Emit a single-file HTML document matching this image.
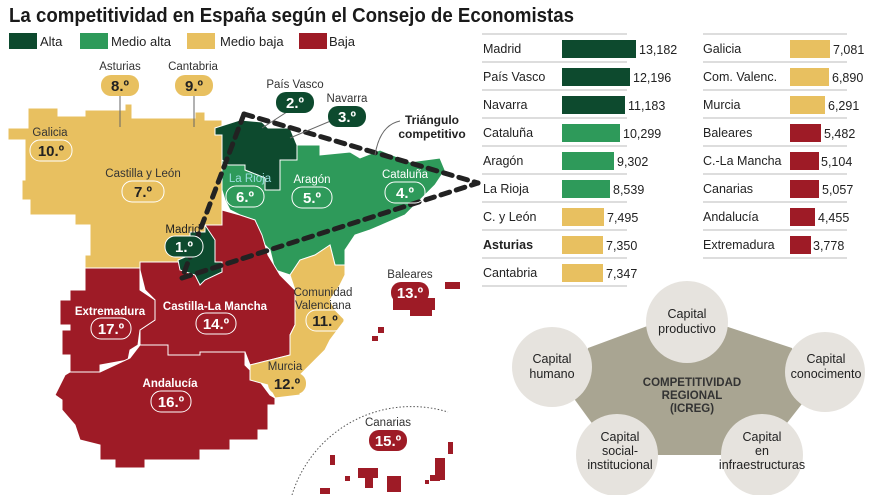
<!DOCTYPE html>
<html><head><meta charset="utf-8"><style>
body{margin:0;background:#fff;width:880px;height:495px;overflow:hidden;font-family:"Liberation Sans",sans-serif}
</style></head><body>
<svg width="880" height="495" viewBox="0 0 880 495" xmlns="http://www.w3.org/2000/svg" font-family="Liberation Sans, sans-serif">
<text x="9" y="22" font-size="20" font-weight="bold" fill="#1a1a1a" textLength="565" lengthAdjust="spacingAndGlyphs">La competitividad en España según el Consejo de Economistas</text>
<rect x="9" y="33" width="28" height="16" fill="#0d4a2e"/><text x="40" y="46" font-size="13" fill="#222">Alta</text>
<rect x="80" y="33" width="28" height="16" fill="#2e9a5a"/><text x="111" y="46" font-size="13" fill="#222">Medio alta</text>
<rect x="187" y="33" width="28" height="16" fill="#e8c060"/><text x="220" y="46" font-size="13" fill="#222">Medio baja</text>
<rect x="299" y="33" width="28" height="16" fill="#9e1b26"/><text x="329" y="46" font-size="13" fill="#222">Baja</text>

<g stroke="#fff" stroke-width="1">
<polygon fill="#e8c060" points="8,128 28,128 28,108 58,108 58,116 85,116 85,110 125,110 125,104 132,104 132,118 195,118 195,112 205,112 205,120 222,120 222,225 205,225 205,232 190,232 190,262 140,262 140,268 85,268 85,255 90,255 90,225 75,225 75,215 30,215 30,200 22,200 22,180 25,180 25,140 8,140"/>
<polygon fill="#0d4a2e" points="215,128 240,120 262,122 268,128 290,128 297,145 297,160 280,160 280,190 265,190 265,178 245,170 245,165 228,165 222,160 222,135 215,135"/>
<polygon fill="#2e9a5a" points="222,160 228,165 245,165 245,170 265,178 265,190 280,190 280,160 297,160 297,145 320,145 320,155 350,152 360,158 380,150 410,162 440,158 445,170 435,185 420,200 405,215 370,230 355,235 345,250 345,265 335,265 330,245 315,255 300,260 290,275 275,270 270,250 260,240 255,220 240,215 230,210 225,200 222,190"/>
<polygon fill="#9e1b26" points="205,225 222,225 222,210 240,215 255,220 262,235 268,255 280,275 295,290 295,325 290,335 290,355 270,360 250,365 245,352 200,352 200,355 168,355 168,345 140,345 140,330 155,320 155,300 145,290 140,270 140,262 190,262 190,232 205,232"/>
<polygon fill="#0d4a2e" points="190,232 205,232 205,225 215,240 215,262 222,262 222,272 205,280 200,285 195,275 180,270 178,260 190,255"/>
<polygon fill="#9e1b26" points="85,268 140,268 140,290 155,300 155,320 140,330 138,345 130,350 128,360 100,365 100,372 70,372 70,355 62,355 62,330 70,330 70,325 60,325 60,300 70,300 70,290 85,290"/>
<polygon fill="#9e1b26" points="70,372 100,372 130,358 140,345 168,345 168,355 200,355 200,352 245,352 245,365 255,375 270,395 275,398 275,405 268,405 268,430 258,430 258,440 230,440 230,450 200,450 200,460 145,460 145,468 115,468 115,460 100,460 100,445 80,440 75,425 62,410 62,400 55,395 60,385 65,375"/>
<polygon fill="#e8c060" points="290,275 300,260 315,255 330,245 335,265 345,265 345,275 340,285 330,300 335,310 345,320 330,340 325,350 305,370 300,375 300,395 275,398 268,385 250,380 250,365 270,360 290,355 290,335 295,325 295,290"/>
</g>
<g fill="#9e1b26">
<rect x="393" y="298" width="42" height="12"/><rect x="410" y="308" width="22" height="8"/><rect x="445" y="282" width="15" height="7"/><rect x="378" y="327" width="6" height="6"/><rect x="372" y="336" width="6" height="5"/>
<rect x="330" y="455" width="5" height="10"/><rect x="358" y="468" width="20" height="10"/><rect x="365" y="478" width="8" height="10"/><rect x="345" y="476" width="5" height="5"/><rect x="387" y="476" width="14" height="16"/><rect x="435" y="458" width="10" height="22"/><rect x="430" y="475" width="10" height="6"/><rect x="448" y="442" width="5" height="12"/><rect x="320" y="488" width="10" height="6"/><rect x="425" y="480" width="4" height="4"/>
</g>
<path d="M292,495 A125,125 0 0,1 448,412" fill="none" stroke="#555" stroke-width="1" stroke-dasharray="1.5,2"/>
<g stroke="#222" stroke-width="5" stroke-dasharray="9,7" stroke-linecap="round" fill="none">
<path d="M244,114 L182,278"/><path d="M244,114 L478,183"/><path d="M182,278 L478,183"/>
</g>
<g stroke="#666" stroke-width="1"><line x1="120" y1="96" x2="120" y2="127"/><line x1="194" y1="96" x2="194" y2="127"/><line x1="290" y1="110" x2="262" y2="128"/><line x1="333" y1="120" x2="290" y2="138"/><path d="M400,121 Q380,125 375,155" fill="none"/></g>

<g font-size="11.5" text-anchor="middle">
<text x="120" y="70" fill="#333">Asturias</text><text x="193" y="70" fill="#333">Cantabria</text>
<text x="295" y="88" fill="#333">País Vasco</text><text x="347" y="102" fill="#333">Navarra</text>
<text x="50" y="136" fill="#333">Galicia</text><text x="143" y="177" fill="#333">Castilla y León</text>
<text x="250" y="182" fill="#9dd">La Rioja</text><text x="312" y="183" fill="#fff">Aragón</text><text x="405" y="178" fill="#fff">Cataluña</text>
<text x="183" y="233" fill="#222">Madrid</text><text x="110" y="315" fill="#fff" font-weight="bold">Extremadura</text><text x="215" y="310" fill="#fff" font-weight="bold">Castilla-La Mancha</text>
<text x="170" y="387" fill="#fff" font-weight="bold">Andalucía</text><text x="323" y="296" fill="#333">Comunidad</text><text x="323" y="309" fill="#333">Valenciana</text>
<text x="285" y="370" fill="#333">Murcia</text><text x="410" y="278" fill="#333">Baleares</text><text x="388" y="426" fill="#333">Canarias</text>
</g>
<text x="432" y="124" font-size="12" font-weight="bold" text-anchor="middle" fill="#222">Triángulo</text>
<text x="432" y="138" font-size="12" font-weight="bold" text-anchor="middle" fill="#222">competitivo</text>

<g font-size="15" font-weight="bold" text-anchor="middle">
<rect x="101" y="75" width="38" height="21" rx="10" fill="#e8c060"/><text x="120" y="91" fill="#222">8.º</text>
<rect x="175" y="75" width="38" height="21" rx="10" fill="#e8c060"/><text x="194" y="91" fill="#222">9.º</text>
<rect x="276" y="92" width="38" height="21" rx="10" fill="#0d4a2e"/><text x="295" y="108" fill="#fff">2.º</text>
<rect x="328" y="106" width="38" height="21" rx="10" fill="#0d4a2e"/><text x="347" y="122" fill="#fff">3.º</text>
<rect x="30" y="140" width="42" height="21" rx="10" fill="none" stroke="#fff"/><text x="51" y="156" fill="#222">10.º</text>
<rect x="122" y="181" width="42" height="21" rx="10" fill="none" stroke="#fff"/><text x="143" y="197" fill="#222">7.º</text>
<rect x="226" y="186" width="38" height="21" rx="10" fill="#2e9a5a" stroke="#fff"/><text x="245" y="202" fill="#fff">6.º</text>
<rect x="292" y="187" width="40" height="21" rx="10" fill="none" stroke="#fff"/><text x="312" y="203" fill="#fff">5.º</text>
<rect x="385" y="182" width="40" height="21" rx="10" fill="none" stroke="#fff"/><text x="405" y="198" fill="#fff">4.º</text>
<rect x="165" y="236" width="38" height="21" rx="10" fill="#0d4a2e" stroke="#fff"/><text x="184" y="252" fill="#fff">1.º</text>
<rect x="91" y="318" width="40" height="21" rx="10" fill="none" stroke="#fff"/><text x="111" y="334" fill="#fff">17.º</text>
<rect x="196" y="313" width="40" height="21" rx="10" fill="none" stroke="#fff"/><text x="216" y="329" fill="#fff">14.º</text>
<rect x="151" y="391" width="40" height="21" rx="10" fill="none" stroke="#fff"/><text x="171" y="407" fill="#fff">16.º</text>
<rect x="306" y="310" width="38" height="21" rx="10" fill="none" stroke="#fff"/><text x="325" y="326" fill="#222">11.º</text>
<rect x="268" y="373" width="38" height="21" rx="10" fill="#e8c060"/><text x="287" y="389" fill="#222">12.º</text>
<rect x="391" y="282" width="38" height="21" rx="10" fill="#9e1b26"/><text x="410" y="298" fill="#fff">13.º</text>
<rect x="369" y="430" width="38" height="21" rx="10" fill="#9e1b26"/><text x="388" y="446" fill="#fff">15.º</text>
</g>

<g stroke="#bbb" stroke-width="1">
<line x1="482" y1="34" x2="627" y2="34"/><line x1="482" y1="62" x2="627" y2="62"/><line x1="482" y1="90" x2="627" y2="90"/><line x1="482" y1="118" x2="627" y2="118"/><line x1="482" y1="146" x2="627" y2="146"/><line x1="482" y1="174" x2="627" y2="174"/><line x1="482" y1="202" x2="627" y2="202"/><line x1="482" y1="230" x2="627" y2="230"/><line x1="482" y1="258" x2="627" y2="258"/><line x1="482" y1="286" x2="627" y2="286"/>
<line x1="703" y1="34" x2="847" y2="34"/><line x1="703" y1="62" x2="847" y2="62"/><line x1="703" y1="90" x2="847" y2="90"/><line x1="703" y1="118" x2="847" y2="118"/><line x1="703" y1="146" x2="847" y2="146"/><line x1="703" y1="174" x2="847" y2="174"/><line x1="703" y1="202" x2="847" y2="202"/><line x1="703" y1="230" x2="847" y2="230"/><line x1="703" y1="258" x2="847" y2="258"/>
</g>
<g font-size="12.5" fill="#222">
<text x="483" y="53">Madrid</text><rect x="562" y="40" width="74" height="18" fill="#0d4a2e"/><text x="639" y="54">13,182</text>
<text x="483" y="81">País Vasco</text><rect x="562" y="68" width="68" height="18" fill="#0d4a2e"/><text x="633" y="82">12,196</text>
<text x="483" y="109">Navarra</text><rect x="562" y="96" width="63" height="18" fill="#0d4a2e"/><text x="628" y="110">11,183</text>
<text x="483" y="137">Cataluña</text><rect x="562" y="124" width="58" height="18" fill="#2e9a5a"/><text x="623" y="138">10,299</text>
<text x="483" y="165">Aragón</text><rect x="562" y="152" width="52" height="18" fill="#2e9a5a"/><text x="617" y="166">9,302</text>
<text x="483" y="193">La Rioja</text><rect x="562" y="180" width="48" height="18" fill="#2e9a5a"/><text x="613" y="194">8,539</text>
<text x="483" y="221">C. y León</text><rect x="562" y="208" width="42" height="18" fill="#e8c060"/><text x="607" y="222">7,495</text>
<text x="483" y="249" font-weight="bold">Asturias</text><rect x="562" y="236" width="41" height="18" fill="#e8c060"/><text x="606" y="250">7,350</text>
<text x="483" y="277">Cantabria</text><rect x="562" y="264" width="41" height="18" fill="#e8c060"/><text x="606" y="278">7,347</text>
<text x="703" y="53">Galicia</text><rect x="790" y="40" width="40" height="18" fill="#e8c060"/><text x="833" y="54">7,081</text>
<text x="703" y="81">Com. Valenc.</text><rect x="790" y="68" width="39" height="18" fill="#e8c060"/><text x="832" y="82">6,890</text>
<text x="703" y="109">Murcia</text><rect x="790" y="96" width="35" height="18" fill="#e8c060"/><text x="828" y="110">6,291</text>
<text x="703" y="137">Baleares</text><rect x="790" y="124" width="31" height="18" fill="#9e1b26"/><text x="824" y="138">5,482</text>
<text x="703" y="165">C.-La Mancha</text><rect x="790" y="152" width="29" height="18" fill="#9e1b26"/><text x="821" y="166">5,104</text>
<text x="703" y="193">Canarias</text><rect x="790" y="180" width="29" height="18" fill="#9e1b26"/><text x="822" y="194">5,057</text>
<text x="703" y="221">Andalucía</text><rect x="790" y="208" width="25" height="18" fill="#9e1b26"/><text x="818" y="222">4,455</text>
<text x="703" y="249">Extremadura</text><rect x="790" y="236" width="21" height="18" fill="#9e1b26"/><text x="813" y="250">3,778</text>
</g>

<polygon points="588,348 650,325 722,325 792,348 805,400 762,455 615,455 575,400" fill="#a9a592"/>
<g fill="#e6e3de"><circle cx="687" cy="322" r="41"/><circle cx="552" cy="367" r="40"/><circle cx="825" cy="372" r="40"/><circle cx="617" cy="455" r="41"/><circle cx="762" cy="455" r="41"/></g>
<g font-size="12.5" text-anchor="middle" fill="#222">
<text x="687" y="318">Capital</text><text x="687" y="333">productivo</text>
<text x="552" y="363">Capital</text><text x="552" y="378">humano</text>
<text x="826" y="363">Capital</text><text x="826" y="378">conocimento</text>
<text x="620" y="441">Capital</text><text x="620" y="455">social-</text><text x="620" y="469">institucional</text>
<text x="762" y="441">Capital</text><text x="762" y="455">en</text><text x="762" y="469">infraestructuras</text>
</g>
<g font-size="11.5" font-weight="bold" text-anchor="middle" fill="#333">
<text x="692" y="386">COMPETITIVIDAD</text><text x="692" y="399">REGIONAL</text><text x="692" y="412">(ICREG)</text>
</g>
</svg>
</body></html>
